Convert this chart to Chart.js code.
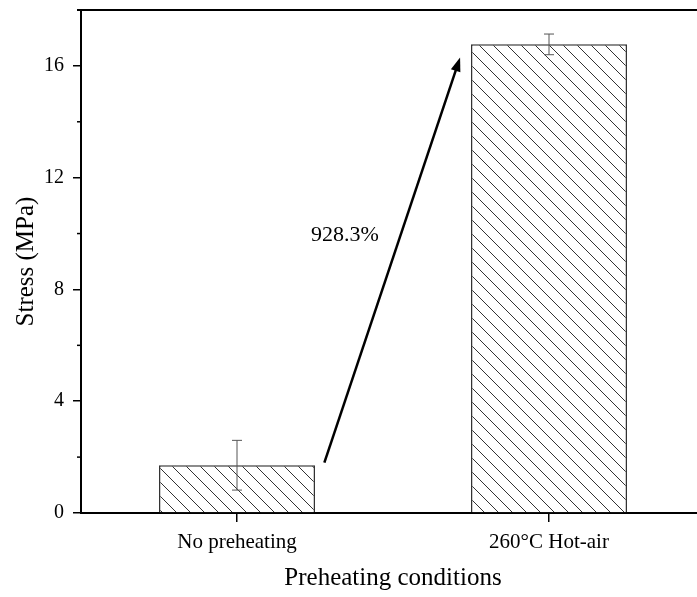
<!DOCTYPE html>
<html>
<head>
<meta charset="utf-8">
<script src="https://cdn.jsdelivr.net/npm/chart.js@4.4.0/dist/chart.umd.min.js"></script>
<style>
  html, body { margin: 0; padding: 0; background: #fff; overflow: hidden; }
  canvas { display: block; }
</style>
</head>
<body>
<canvas id="myChart" width="705" height="597"></canvas>
<script>
// data
const conditions = ['No preheating', '260\u00b0C Hot-air'];
const stress = [1.71, 16.77];
const stressErr = [0.89, 0.37];
const yTicks = [0, 4, 8, 12, 16];
const yMinorTicks = [2, 6, 10, 14];
const increaseLabel = '928.3%';
// arrow + label position in data units (category index, MPa)
const arrowFrom = [0.28, 1.8];
const arrowTo = [0.715, 16.3];
const labelAt = [0.346, 9.93];

const FONT = "'Liberation Serif', 'Times New Roman', serif";

// hatch pattern "\\\\"
function makeHatch() {
  const c = document.createElement('canvas');
  c.width = 14; c.height = 14;
  const g = c.getContext('2d');
  g.fillStyle = '#fff';
  g.fillRect(0, 0, 14, 14);
  g.strokeStyle = '#333';
  g.lineWidth = 1;
  g.beginPath();
  g.moveTo(-2, -2); g.lineTo(16, 16);
  g.moveTo(-2, 12); g.lineTo(2, 16);
  g.moveTo(12, -2); g.lineTo(16, 2);
  g.stroke();
  return g.createPattern(c, 'repeat');
}

const ctx = document.getElementById('myChart').getContext('2d');

const decor = {
  id: 'decor',
  afterDatasetsDraw(chart) {
    const { ctx, chartArea, scales: { x, y } } = chart;
    ctx.save();

    // error bars
    ctx.strokeStyle = '#555';
    ctx.lineWidth = 1;
    stress.forEach((v, i) => {
      const px = x.getPixelForValue(i);
      const t = y.getPixelForValue(v + stressErr[i]);
      const b = y.getPixelForValue(v - stressErr[i]);
      ctx.beginPath();
      ctx.moveTo(px, t); ctx.lineTo(px, b);
      ctx.moveTo(px - 5, t); ctx.lineTo(px + 5, t);
      ctx.moveTo(px - 5, b); ctx.lineTo(px + 5, b);
      ctx.stroke();
    });

    // minor ticks on y
    ctx.strokeStyle = '#000';
    ctx.lineWidth = 1.5;
    yMinorTicks.forEach(v => {
      const py = y.getPixelForValue(v);
      ctx.beginPath();
      ctx.moveTo(chartArea.left - 4, py); ctx.lineTo(chartArea.left, py);
      ctx.stroke();
    });

    // top frame line
    ctx.lineWidth = 2;
    ctx.beginPath();
    ctx.moveTo(chartArea.left - 4, chartArea.top);
    ctx.lineTo(chartArea.right, chartArea.top);
    ctx.stroke();

    // arrow
    const x0 = x.getPixelForValue(arrowFrom[0]), y0 = y.getPixelForValue(arrowFrom[1]);
    const x1 = x.getPixelForValue(arrowTo[0]), y1 = y.getPixelForValue(arrowTo[1]);
    const ang = Math.atan2(y1 - y0, x1 - x0);
    const headLen = 14, headW = 5;
    ctx.lineWidth = 2.5;
    ctx.beginPath();
    ctx.moveTo(x0, y0);
    ctx.lineTo(x1 - headLen * 0.8 * Math.cos(ang), y1 - headLen * 0.8 * Math.sin(ang));
    ctx.stroke();
    ctx.fillStyle = '#000';
    ctx.beginPath();
    ctx.moveTo(x1, y1);
    ctx.lineTo(x1 - headLen * Math.cos(ang) + headW * Math.sin(ang), y1 - headLen * Math.sin(ang) - headW * Math.cos(ang));
    ctx.lineTo(x1 - headLen * Math.cos(ang) - headW * Math.sin(ang), y1 - headLen * Math.sin(ang) + headW * Math.cos(ang));
    ctx.closePath();
    ctx.fill();

    // percentage label
    ctx.font = '22px ' + FONT;
    ctx.textAlign = 'center';
    ctx.textBaseline = 'middle';
    ctx.fillText(increaseLabel, x.getPixelForValue(labelAt[0]), y.getPixelForValue(labelAt[1]));

    ctx.restore();
  }
};

new Chart(ctx, {
  type: 'bar',
  data: {
    labels: conditions,
    datasets: [{
      label: 'Stress',
      data: stress,
      backgroundColor: makeHatch(),
      borderColor: '#333',
      borderWidth: 1.5,
      barPercentage: 0.5,
      categoryPercentage: 1
    }]
  },
  options: {
    responsive: false,
    animation: false,
    layout: { padding: { top: 10, left: 0, right: 0, bottom: 0 } },
    plugins: { legend: { display: false }, tooltip: { enabled: false } },
    scales: {
      x: {
        offset: true,
        grid: { display: true, offset: false, drawOnChartArea: false, drawTicks: true, tickLength: 9, color: '#000', lineWidth: 1.5 },
        border: { display: true, color: '#000', width: 2 },
        ticks: { color: '#000', font: { family: FONT, size: 21 }, padding: 8, maxRotation: 0 },
        title: { display: true, text: 'Preheating conditions', color: '#000', font: { family: FONT, size: 25 }, padding: 4 },
        afterFit(scale) { scale.height = 84; scale.paddingLeft = 0; scale.paddingRight = 0; }
      },
      y: {
        min: 0,
        max: 18,
        afterBuildTicks(scale) { scale.ticks = yTicks.map(v => ({ value: v })); },
        grid: { display: true, drawOnChartArea: false, drawTicks: true, tickLength: 8, color: '#000', lineWidth: 1.5 },
        border: { display: true, color: '#000', width: 2 },
        ticks: { color: '#000', font: { family: FONT, size: 20 }, padding: 9 },
        title: { display: true, text: 'Stress (MPa)', color: '#000', font: { family: FONT, size: 25 }, padding: 11 },
        afterFit(scale) { scale.width = 81; scale.paddingTop = 0; scale.paddingBottom = 0; }
      }
    }
  },
  plugins: [decor]
});
</script>
</body>
</html>
